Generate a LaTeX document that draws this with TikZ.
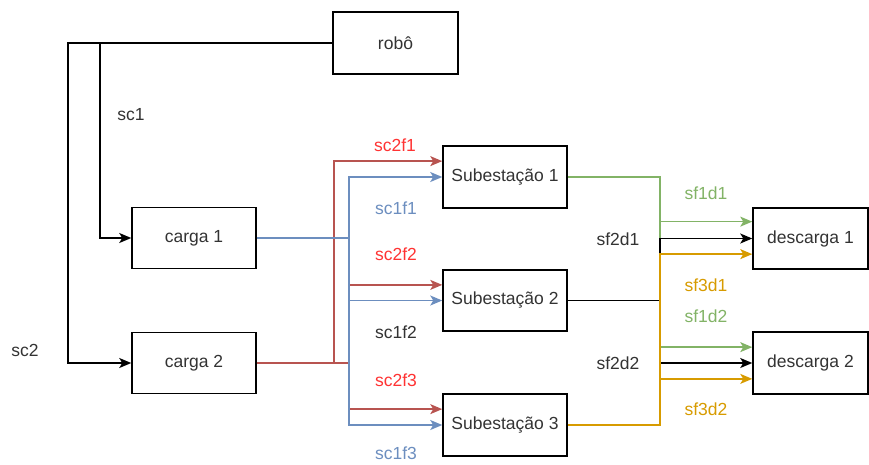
\documentclass[tikz,border=0pt]{standalone}
\usepackage{fontspec}
\setmainfont{Liberation Sans}
\usetikzlibrary{arrows.meta,calc}
\definecolor{dred}{HTML}{B85450}
\definecolor{tred}{HTML}{FF3333}
\definecolor{dblue}{HTML}{6C8EBF}
\definecolor{dgreen}{HTML}{82B366}
\definecolor{dorange}{HTML}{D79B00}
\definecolor{txt}{HTML}{333333}
\tikzset{
  box/.style={draw=black,line width=1.5pt,minimum width=124pt,minimum height=61pt,inner sep=0pt,font=\fontsize{17.5pt}{20pt}\selectfont,text=txt},
  lbl/.style={inner sep=0pt,font=\fontsize{17.5pt}{20pt}\selectfont,text=txt},
  conn/.style={line width=1.5pt,-{Stealth[length=12pt,width=10pt,inset=3pt]}},
}
\begin{document}
\begin{tikzpicture}[x=1pt,y=-1pt]
\useasboundingbox (0,0) rectangle (869,464);
% boxes
\node[box,minimum width=125pt,minimum height=62pt] (robo) at (395.5,43) {robô};
\node[box] (c1) at (194,238) {carga 1};
\node[box] (c2) at (194,363) {carga 2};
\node[box,minimum height=62pt] (s1) at (505,177) {Subestação 1};
\node[box] (s2) at (505,300.5) {Subestação 2};
\node[box,minimum height=62pt] (s3) at (505,425) {Subestação 3};
\node[box,minimum width=115pt] (d1) at (810.5,238.5) {descarga 1};
\node[box,minimum width=115pt,minimum height=62pt] (d2) at (810.5,363) {descarga 2};
% routing columns
\coordinate (k1) at (100,0);
\coordinate (k2) at (68,0);
\coordinate (rx) at (334,0);
\coordinate (bx) at (349,0);
\coordinate (gx) at (660,0);
% entry points
\coordinate (s1a) at ($(s1.north west)!.25!(s1.south west)$);
\coordinate (s2a) at ($(s2.north west)!.25!(s2.south west)$);
\coordinate (s3a) at ($(s3.north west)!.25!(s3.south west)$);
\coordinate (d1a) at ($(d1.north west)!.23!(d1.south west)$);
\coordinate (d1c) at ($(d1.north west)!.75!(d1.south west)$);
\coordinate (d2a) at ($(d2.north west)!.25!(d2.south west)$);
\coordinate (d2c) at ($(d2.north west)!.75!(d2.south west)$);
% robot connectors
\draw[conn,black] (robo.west) -- (robo.west -| k1) |- (c1.west);
\draw[conn,black] (robo.west) -- (robo.west -| k2) |- (c2.west);
% carga 2 (red)
\draw[conn,dred] (c2.east) -- (c2.east -| rx) |- (s1a);
\draw[conn,dred] (c2.east) -- (c2.east -| bx) |- (s2a);
\draw[conn,dred] (c2.east) -- (c2.east -| bx) |- (s3a);
% carga 1 (blue)
\draw[conn,dblue] (c1.east) -- (c1.east -| bx) |- (s1.west);
\draw[conn,dblue] (c1.east) -- (c1.east -| bx) |- (s2.west);
\draw[conn,dblue] (c1.east) -- (c1.east -| bx) |- (s3.west);
% right side
\draw[conn,dgreen] (s1.east) -- (s1.east -| gx) |- (d1a);
\draw[conn,dgreen] (s1.east) -- (s1.east -| gx) |- (d2a);
\draw[conn,black] (s2.east) -- (s2.east -| gx) |- (d1.west);
\draw[conn,black] (s2.east) -- (s2.east -| gx) |- (d2.west);
\draw[conn,dorange] (s3.east) -- (s3.east -| gx) |- (d1c);
\draw[conn,dorange] (s3.east) -- (s3.east -| gx) |- (d2c);
% labels
\node[lbl] (lsc1) at (131,115) {sc1};
\node[lbl] (lsc2) at (25,350) {sc2};
\node[lbl,text=tred] (l21) at (395,145) {sc2f1};
\node[lbl,text=dblue] (l11) at (396,208) {sc1f1};
\node[lbl,text=tred] (l22) at (396,254) {sc2f2};
\node[lbl] (l12) at (396,332) {sc1f2};
\node[lbl,text=tred] (l23) at (396,380) {sc2f3};
\node[lbl,text=dblue] (l13) at (396,453) {sc1f3};
\node[lbl,text=dgreen] (m11) at (706,193) {sf1d1};
\node[lbl] (m21) at (618,239) {sf2d1};
\node[lbl,text=dorange] (m31) at (706,285) {sf3d1};
\node[lbl,text=dgreen] (m12) at (706,316) {sf1d2};
\node[lbl] (m22) at (618,363) {sf2d2};
\node[lbl,text=dorange] (m32) at (706,409) {sf3d2};
\end{tikzpicture}
\end{document}
